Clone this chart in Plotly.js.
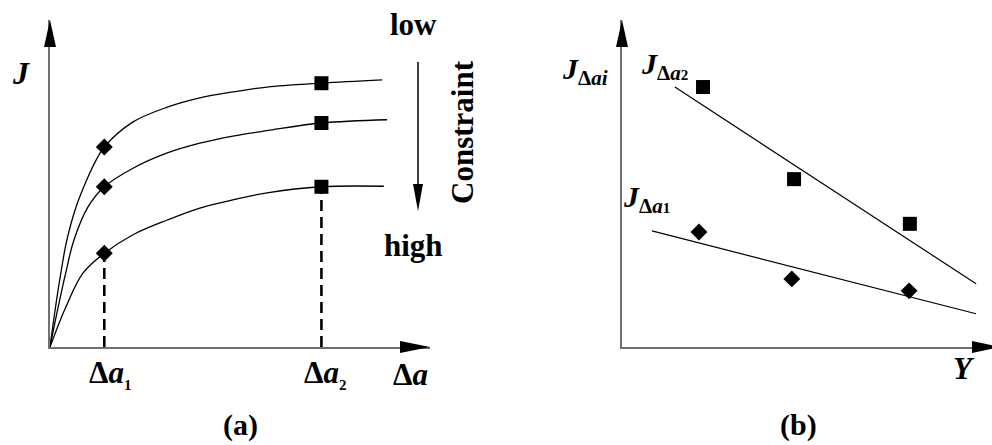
<!DOCTYPE html>
<html>
<head>
<meta charset="utf-8">
<script src="https://cdn.plot.ly/plotly-3.0.1.min.js"></script>
<style>
  html, body { margin: 0; padding: 0; background: #ffffff; }
  #chart { width: 992px; height: 445px; }
</style>
</head>
<body>
<div id="chart"></div>
<script>
// ---- (a) J–Δa resistance curves for three constraint levels ----
const daLow   = [0, 0.10, 0.20, 0.31, 0.48, 0.70, 0.85, 1.0, 1.53, 2.16, 2.76, 3.37, 4.0, 5.0, 6.12];
const jLow    = [0, 0.72, 1.36, 1.96, 2.57, 3.12, 3.43, 3.67, 4.13, 4.40, 4.57, 4.68, 4.77, 4.84, 4.90];
const daMid   = [0, 0.15, 0.29, 0.44, 0.70, 1.0, 1.53, 2.16, 2.76, 3.37, 4.0, 5.0, 6.21];
const jMid    = [0, 0.73, 1.36, 1.96, 2.57, 2.94, 3.28, 3.56, 3.74, 3.87, 3.97, 4.11, 4.17];
const daHigh  = [0, 0.29, 0.61, 1.0, 1.53, 2.16, 2.76, 3.37, 4.0, 5.0, 6.15];
const jHigh   = [0, 0.73, 1.36, 1.72, 2.06, 2.33, 2.55, 2.70, 2.83, 2.94, 2.95];

// crack extensions Δa1, Δa2 and the J values read at them
const daPicks   = [1.0, 5.0];
const jAtDa1    = [3.67, 2.94, 1.72];   // low, mid, high constraint
const jAtDa2    = [4.84, 4.11, 2.94];

// ---- (b) J at fixed Δa versus constraint parameter Y ----
const yDa2      = [2.19, 4.65, 7.78];
const jDa2      = [4.77, 3.08, 2.26];
const yDa1      = [2.08, 4.59, 7.76];
const jDa1      = [2.11, 1.25, 1.03];
const fitDa2Y   = [1.43, 9.57];
const fitDa2J   = [4.77, 1.16];
const fitDa1Y   = [0.81, 9.57];
const fitDa1J   = [2.13, 0.61];

// ---- page geometry (pixels) ----
const W = 992, H = 445;
const PX = p => p / W;
const PY = p => 1 - p / H;
const panelA = { x0: 50, x1: 430, yTop: 20, yBot: 347 };
const panelB = { x0: 622, x1: 992, yTop: 20, yBot: 347 };

const AXIS_GREY = '#707070';
const SERIF = '"Liberation Serif", "Times New Roman", Times, serif';

function axis(domainPx, range, horizontal) {
  const d = horizontal ? [PX(domainPx[0]), PX(domainPx[1])]
                       : [PY(domainPx[1]), PY(domainPx[0])];
  return {
    domain: d, range: range, showline: true, linecolor: AXIS_GREY, linewidth: 2,
    showgrid: false, zeroline: false, showticklabels: false, ticks: '',
    fixedrange: true
  };
}

const curveLine = { color: '#000', width: 1.3, shape: 'spline', smoothing: 1 };
const diamond = { symbol: 'diamond', size: 13, color: '#000' };
const square  = { symbol: 'square', size: 14, color: '#000' };

const traces = [
  { x: daLow,  y: jLow,  mode: 'lines', line: curveLine, xaxis: 'x', yaxis: 'y' },
  { x: daMid,  y: jMid,  mode: 'lines', line: curveLine, xaxis: 'x', yaxis: 'y' },
  { x: daHigh, y: jHigh, mode: 'lines', line: curveLine, xaxis: 'x', yaxis: 'y' },
  // projections of the high-constraint picks onto the Δa axis
  { x: [daPicks[0], daPicks[0]], y: [0, jAtDa1[2]], mode: 'lines',
    line: { color: '#000', width: 2.6, dash: '11px,6px' }, xaxis: 'x', yaxis: 'y' },
  { x: [daPicks[1], daPicks[1]], y: [0, jAtDa2[2]], mode: 'lines',
    line: { color: '#000', width: 2.6, dash: '11px,6px' }, xaxis: 'x', yaxis: 'y' },
  { x: jAtDa1.map(() => daPicks[0]), y: jAtDa1, mode: 'markers', marker: diamond,
    cliponaxis: false, xaxis: 'x', yaxis: 'y' },
  { x: jAtDa2.map(() => daPicks[1]), y: jAtDa2, mode: 'markers', marker: square,
    cliponaxis: false, xaxis: 'x', yaxis: 'y' },

  { x: fitDa2Y, y: fitDa2J, mode: 'lines', line: { color: '#000', width: 1.2 }, xaxis: 'x2', yaxis: 'y2' },
  { x: fitDa1Y, y: fitDa1J, mode: 'lines', line: { color: '#000', width: 1.2 }, xaxis: 'x2', yaxis: 'y2' },
  { x: yDa2, y: jDa2, mode: 'markers', marker: square, cliponaxis: false, xaxis: 'x2', yaxis: 'y2' },
  { x: yDa1, y: jDa1, mode: 'markers', marker: diamond, cliponaxis: false, xaxis: 'x2', yaxis: 'y2' }
];

// filled arrow heads, given tip and base in pixels
function head(tipX, tipY, baseX, baseY, half) {
  let a, b;
  if (tipX === baseX) { a = [baseX - half, baseY]; b = [baseX + half, baseY]; }
  else { a = [baseX, baseY - half]; b = [baseX, baseY + half]; }
  return {
    type: 'path', xref: 'paper', yref: 'paper', fillcolor: '#000',
    line: { width: 0 },
    path: `M${PX(tipX)},${PY(tipY)} L${PX(a[0])},${PY(a[1])} L${PX(b[0])},${PY(b[1])} Z`
  };
}

const shapes = [
  head(panelA.x0, panelA.yTop, panelA.x0, panelA.yTop + 27, 6),
  head(panelA.x1, panelA.yBot, panelA.x1 - 30, panelA.yBot, 6),
  head(panelB.x0, panelB.yTop, panelB.x0, panelB.yTop + 27, 6),
  head(panelB.x1 + 8, panelB.yBot, panelB.x1 - 20, panelB.yBot, 6),
  // constraint direction arrow
  { type: 'line', xref: 'paper', yref: 'paper', x0: PX(418), x1: PX(418), y0: PY(62), y1: PY(190),
    line: { color: '#000', width: 1.5 } },
  head(418, 211, 418, 184, 5)
];

function label(text, x, y, size, extra) {
  return Object.assign({
    text: text, xref: 'paper', yref: 'paper', x: PX(x), y: PY(y),
    xanchor: 'center', yanchor: 'middle', showarrow: false,
    font: { family: SERIF, size: size, color: '#000' }
  }, extra || {});
}

// small index digit used inside subscripts
const idx = d => `<span style="font-size:15px">${d}</span>`;

const annotations = [
  label('<b><i>J</i></b>', 21, 73, 32),
  label(`<b>Δ<i>a</i><sub>${idx(1)}</sub></b>`, 110, 374, 31),
  label(`<b>Δ<i>a</i><sub>${idx(2)}</sub></b>`, 325, 374, 31),
  label('<b>Δ<i>a</i></b>', 410, 374, 31),
  label('<b>low</b>', 413, 24, 31),
  label('<b>high</b>', 413, 245, 31),
  label('<b>Constraint</b>', 462, 132, 31, { textangle: -90 }),
  label('<b>(a)</b>', 240, 425, 30),

  label('<b><i>J</i><sub>Δ<i>ai</i></sub></b>', 585, 71, 30),
  label(`<b><i>J</i><sub>Δ<i>a</i>${idx(2)}</sub></b>`, 664, 66, 30),
  label(`<b><i>J</i><sub>Δ<i>a</i>${idx(1)}</sub></b>`, 646, 199, 30),
  label('<b><i>Y</i></b>', 964, 368, 31),
  label('<b>(b)</b>', 798, 425, 30)
];

const layout = {
  width: W, height: H,
  margin: { l: 0, r: 0, t: 0, b: 0, pad: 0 },
  paper_bgcolor: '#ffffff', plot_bgcolor: '#ffffff',
  showlegend: false,
  font: { family: SERIF },
  xaxis:  axis([panelA.x0, panelA.x1], [0, 7], true),
  yaxis:  axis([panelA.yTop, panelA.yBot], [0, 6], false),
  xaxis2: Object.assign(axis([panelB.x0, panelB.x1], [0, 10], true), { anchor: 'y2' }),
  yaxis2: Object.assign(axis([panelB.yTop, panelB.yBot], [0, 6], false), { anchor: 'x2' }),
  shapes: shapes,
  annotations: annotations
};
layout.xaxis.anchor = 'y';
layout.yaxis.anchor = 'x';

Plotly.newPlot('chart', traces, layout, { staticPlot: true, displayModeBar: false });
</script>
</body>
</html>
